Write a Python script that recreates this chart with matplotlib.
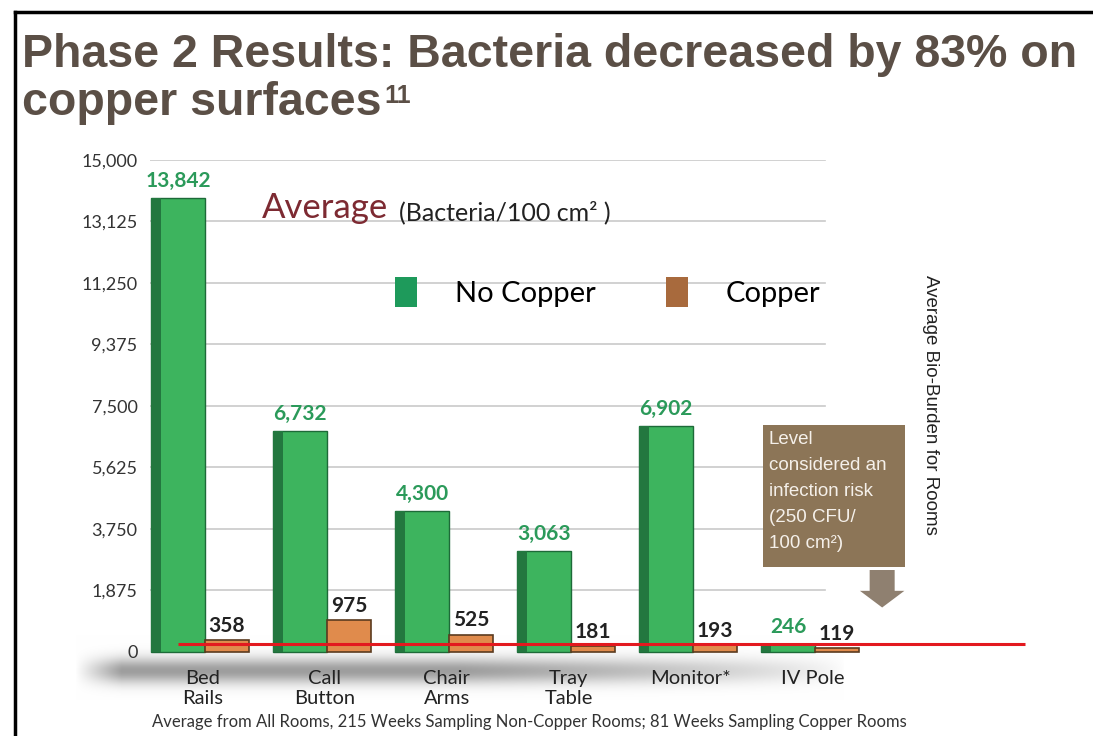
import matplotlib
matplotlib.use('Agg')
import matplotlib.pyplot as plt
from matplotlib.patches import Patch, Rectangle
from matplotlib.lines import Line2D
import numpy as np

# data
categories = ['Bed\nRails', 'Call\nButton', 'Chair\nArms', 'Tray\nTable', 'Monitor*', 'IV Pole']
no_copper = [13842, 6732, 4300, 3063, 6902, 246]
copper = [358, 975, 525, 181, 193, 119]
yticks = [0, 1875, 3750, 5625, 7500, 9375, 11250, 13125, 15000]
risk_level = 250

W, H = 1093, 736
fig = plt.figure(figsize=(W / 100, H / 100), dpi=100)
fig.patch.set_facecolor('white')


def fx(px):
    return px / W


def fy(py):
    return 1 - py / H


# slide frame
fig.add_artist(Line2D([fx(15), fx(15)], [fy(12), 0], color='black', lw=2.5))
fig.add_artist(Line2D([fx(15), 1], [fy(12), fy(12)], color='black', lw=2.5))

# grey "floor" shading behind the base of the bars (decoration only)
floor = fig.add_axes([fx(75), fy(700), fx(845) - fx(75), fy(635) - fy(700)], zorder=0)
rows = np.linspace(0, 1, 65)[:, None]
cols = np.linspace(0, 1, 770)[None, :]
vert = np.exp(-((rows - 0.55) / 0.2) ** 2)
horiz = np.clip(cols / 0.06, 0, 1) * np.clip((1 - cols) / 0.5, 0, 1) ** 0.7
shade = 1 - 0.38 * vert * horiz
floor.imshow(np.dstack([shade] * 3), aspect='auto', interpolation='bilinear')
floor.axis('off')

# main chart axes
ax = fig.add_axes([fx(150), fy(660), fx(1030) - fx(150), fy(160) - fy(660)], zorder=1)
ax.patch.set_alpha(0)
ax.set_xlim(-0.41, 6.8)
ax.set_ylim(-250, 15000)
for s in ax.spines.values():
    s.set_visible(False)

# grid lines stop before the note box
for yv in yticks[1:]:
    ax.axhline(yv, xmin=0, xmax=0.767, color='#c9c9c9', lw=1.2, zorder=1)

x = np.arange(len(categories))
g_off, c_off = -0.18, 0.22
ax.bar(x + g_off, no_copper, 0.44, color='#3db45e', edgecolor='#1d6a38', lw=1, zorder=3)
ax.bar(x + g_off - 0.18, no_copper, 0.08, color='#23773f', zorder=3.5)
ax.bar(x + c_off, copper, 0.36, color='#e08b4c', edgecolor='#5b3b1f', lw=1.2, zorder=3)

for xi, v in zip(x, no_copper):
    ax.annotate(f'{v:,}', (xi + g_off, v), xytext=(0, 5), textcoords='offset points',
                ha='center', va='bottom', color='#2b9a5a', fontweight='bold',
                fontsize=15, fontfamily='Lato', zorder=6)
for xi, v in zip(x, copper):
    ax.annotate(f'{v:,}', (xi + c_off, v), xytext=(0, 3), textcoords='offset points',
                ha='center', va='bottom', color='#222222', fontweight='bold',
                fontsize=15, fontfamily='Lato', zorder=6)

# infection risk level
ax.hlines(risk_level, -0.18, 6.76, color='#e3191f', lw=2.2, zorder=5)

ax.set_yticks(yticks)
ax.set_yticklabels([f'{v:,}' for v in yticks], fontsize=13, fontfamily='Lato', color='#333333')
ax.set_xticks(x + 0.02)
ax.set_xticklabels(categories, fontsize=14.5, fontfamily='Lato', color='#222222')
ax.tick_params(length=0)
ax.tick_params(axis='y', pad=9)
ax.tick_params(axis='x', pad=7)

# legend
handles = [Patch(facecolor='#1e9a5b', label='No Copper'), Patch(facecolor='#a86a3d', label='Copper')]
ax.legend(handles=handles, loc='center', bbox_to_anchor=(0.52, 0.736), ncol=2, frameon=False,
          prop={'family': 'Lato', 'size': 21}, handlelength=0.75, handleheight=1.2,
          columnspacing=2.4, handletextpad=1.3)

# chart heading
t_avg = fig.text(fx(262), fy(218), 'Average', fontsize=25, color='#7d2a32',
                 fontfamily='Lato', va='baseline')
ax.annotate('(Bacteria/100 cm² )', xy=(1, 0), xycoords=t_avg, xytext=(8, 0),
            textcoords='offset points', va='bottom', fontsize=18,
            fontfamily='Lato', color='#222222')

# note box with arrow (above the axes so the grid doesn't show through)
fig.add_artist(Rectangle((fx(763), fy(567)), fx(905) - fx(763), fy(425) - fy(567),
                         facecolor='#8c7557', edgecolor='none', zorder=5))
fig.text(fx(769), fy(431), 'Level\nconsidered an\ninfection risk\n(250 CFU/\n100 cm²)',
         va='top', ha='left', color='#f5f0ea', fontsize=13.5,
         fontfamily='Liberation Sans', linespacing=1.7, zorder=6)
ax.annotate('', xy=(0.832, 0.105), xytext=(0.832, 0.18), xycoords='axes fraction',
            arrowprops=dict(arrowstyle='simple,head_length=0.6,head_width=1.6,tail_width=0.9',
                            fc='#8f8070', ec='none', mutation_scale=20,
                            shrinkA=0, shrinkB=0))

fig.text(fx(930), fy(405), 'Average Bio-Burden for Rooms', rotation=270, ha='center',
         va='center', fontsize=13.5, fontfamily='Liberation Sans', color='#222222')

fig.text(fx(529), fy(722),
         'Average from All Rooms, 215 Weeks Sampling Non-Copper Rooms; 81 Weeks Sampling Copper Rooms',
         ha='center', va='center', fontsize=12, fontfamily='Lato', color='#333333')

# slide title
title_kw = dict(fontfamily='Liberation Sans', fontweight='bold', color='#5b4f46', fontsize=33.5)
fig.text(fx(22), fy(67), 'Phase 2 Results: Bacteria decreased by 83% on', va='baseline', **title_kw)
t2 = fig.text(fx(22), fy(115), 'copper surfaces', va='baseline', **title_kw)
ax.annotate('11', xy=(1, 0.5), xycoords=t2, xytext=(2, 0), textcoords='offset points',
            va='baseline', fontsize=18, fontfamily='Liberation Sans', fontweight='bold',
            color='#5b4f46')

fig.savefig('out.png', dpi=100)
